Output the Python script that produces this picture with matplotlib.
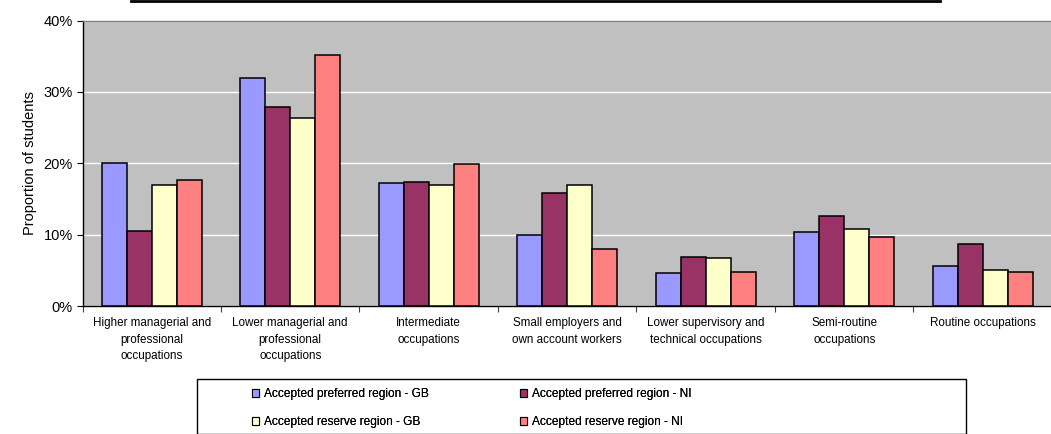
import matplotlib
matplotlib.use("Agg")
import matplotlib.pyplot as plt
from matplotlib.patches import Rectangle, Patch
from matplotlib.lines import Line2D
from matplotlib.transforms import blended_transform_factory, offset_copy
import numpy as np

plt.rcParams['font.family'] = ['Liberation Sans', 'DejaVu Sans']

categories = [
    "Higher managerial and\nprofessional\noccupations",
    "Lower managerial and\nprofessional\noccupations",
    "Intermediate\noccupations",
    "Small employers and\nown account workers",
    "Lower supervisory and\ntechnical occupations",
    "Semi-routine\noccupations",
    "Routine occupations",
]
series_names = [
    "Accepted preferred region - GB",
    "Accepted preferred region - NI",
    "Accepted reserve region - GB",
    "Accepted reserve region - NI",
]
pref_gb = [20.1, 32.0, 17.3, 10.0, 4.6, 10.4, 5.6]
pref_ni = [10.5, 27.9, 17.4, 15.8, 6.8, 12.6, 8.7]
res_gb = [16.9, 26.4, 16.9, 16.9, 6.7, 10.8, 5.0]
res_ni = [17.7, 35.2, 19.9, 8.0, 4.8, 9.6, 4.8]
series_values = [pref_gb, pref_ni, res_gb, res_ni]
colors = ["#9999FF", "#993366", "#FFFFCC", "#FF8080"]
y_ticks = [0, 10, 20, 30, 40]
y_ticklabels = ["0%", "10%", "20%", "30%", "40%"]

W, H = 1051, 434
fig = plt.figure(figsize=(W / 100, H / 100), dpi=100)

left, top, bottom = 82.5, 20.5, 306.0
ax = fig.add_axes([left / W, (H - bottom) / H, (W - left + 1) / W, (bottom - top) / H])
ax.set_facecolor("#C0C0C0")

n = len(categories)
bw = 0.18
x = np.arange(n) + 0.5
for k, (vals, c) in enumerate(zip(series_values, colors)):
    ax.bar(x + (k - 1.5) * bw, vals, width=bw, color=c, edgecolor="black",
           linewidth=1.1, zorder=3, label=series_names[k])

ax.set_xlim(0, n + 0.0)
ax.set_ylim(0, 40)
ax.set_yticks(y_ticks)
ax.set_yticklabels(y_ticklabels, fontsize=10.5)
ax.yaxis.grid(True, color="white", linewidth=1.0, zorder=1)
ax.set_axisbelow(True)
ax.set_xticks(np.arange(n + 1))
ax.set_xticklabels([])
ax.tick_params(axis="both", direction="out", length=4, width=0.8, color="black")
ax.tick_params(axis="x", color="#404040")
ax.tick_params(axis="y", pad=3)
for s in ["left", "bottom"]:
    ax.spines[s].set_color("black")
    ax.spines[s].set_linewidth(1.0)
ax.spines["top"].set_color("#808080")
ax.spines["top"].set_linewidth(1.0)
ax.spines["right"].set_visible(False)

ax.set_ylabel("Proportion of students", fontsize=10.5, labelpad=5)

trans = offset_copy(blended_transform_factory(ax.transData, ax.transAxes),
                    fig=fig, x=0, y=-8, units="points")
for xi, lab in zip(x, categories):
    ax.text(xi, 0, lab, transform=trans, ha="center", va="top",
            fontsize=8.4, linespacing=1.5)

# legend box
fig.patches.append(Rectangle((197 / W, 0), (966 - 197) / W, (H - 379) / H,
                             transform=fig.transFigure, facecolor="white",
                             edgecolor="black", linewidth=1.0, zorder=0))
handles = [Patch(facecolor=c, edgecolor="black", linewidth=0.8) for c in colors]
leg_font = {"family": ["Liberation Sans", "DejaVu Sans"], "size": 8.6}
col_x = [252, 520]
for ci in range(2):
    idx = [ci, ci + 2]
    lg = fig.legend([handles[i] for i in idx], [series_names[i] for i in idx],
                    loc="upper left",
                    bbox_to_anchor=(col_x[ci] / W, (H - 388) / H), ncol=1,
                    frameon=False, prop=leg_font, handlelength=0.6,
                    handleheight=0.6, handletextpad=0.4,
                    labelspacing=1.35, borderpad=0, borderaxespad=0)
    fig.add_artist(lg)

# top line (title box border remnant)
fig.add_artist(Line2D([131 / W, 940 / W], [(H - 1) / H, (H - 1) / H],
                      transform=fig.transFigure, color="black", linewidth=2))

fig.savefig("out.png", dpi=100)
